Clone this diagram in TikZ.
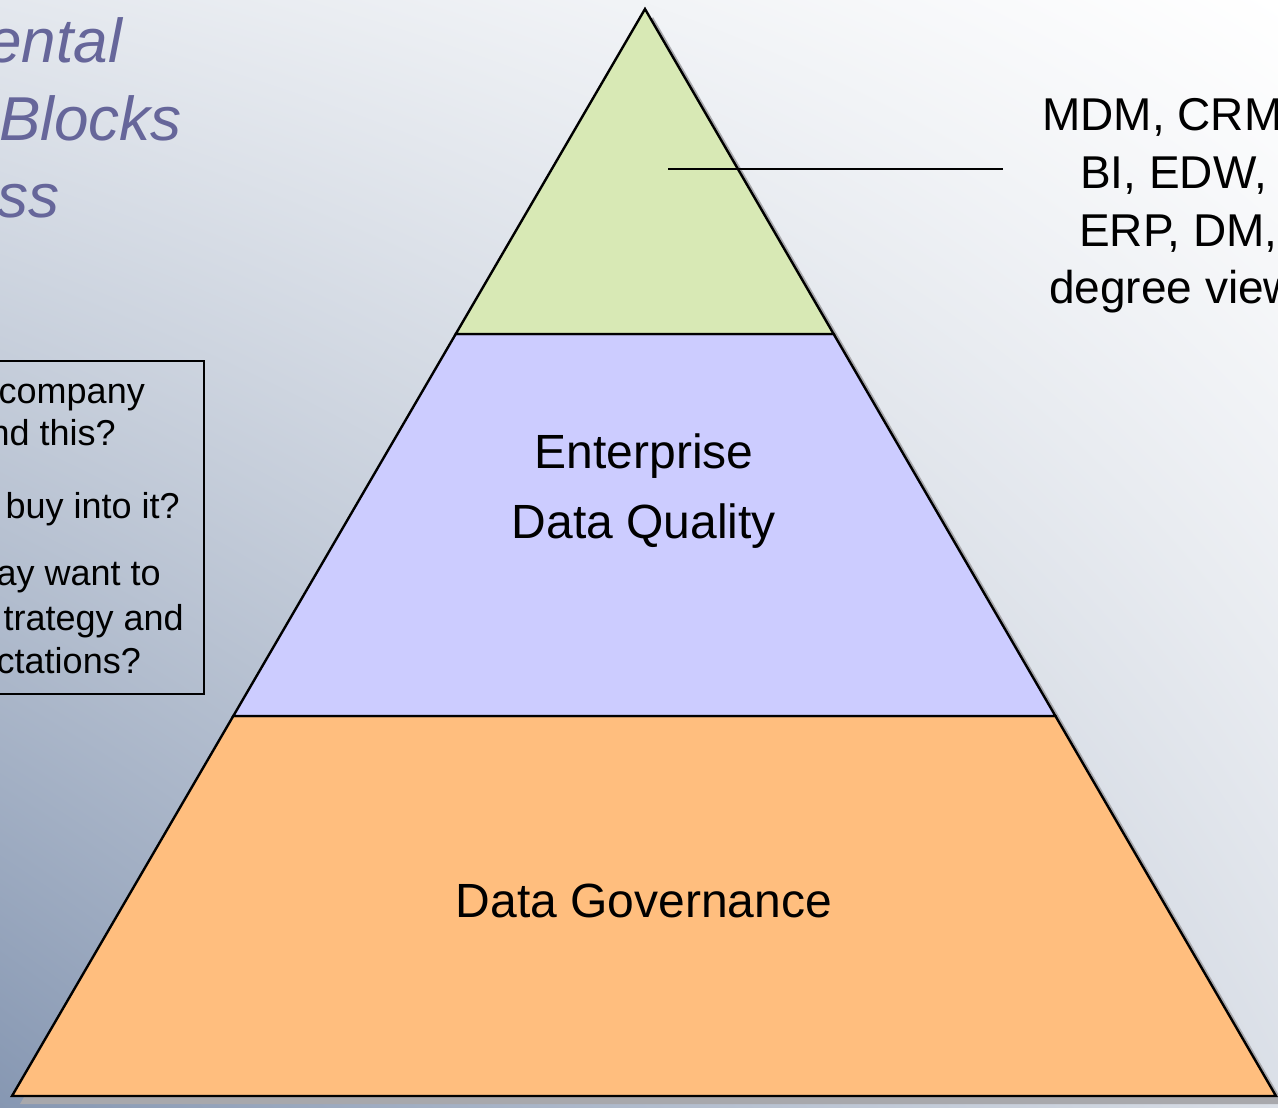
\documentclass[tikz,border=0pt]{standalone}
\usepackage{fontspec}
\setmainfont{Liberation Sans}
\usepackage{xcolor}
\usetikzlibrary{calc,positioning,shadings}

\definecolor{bgtl}{RGB}{228,232,238}
\definecolor{bgtr}{RGB}{255,255,255}
\definecolor{bgbl}{RGB}{134,151,178}
\definecolor{bgbr}{RGB}{218,223,231}
\definecolor{titlecol}{RGB}{102,102,154}
\definecolor{topfill}{RGB}{216,233,181}
\definecolor{midfill}{RGB}{204,204,255}
\definecolor{botfill}{RGB}{255,190,126}
\definecolor{shadowcol}{RGB}{168,168,172}

\begin{document}
\begin{tikzpicture}[x=1pt, y=-1pt,
    layer/.style={draw=black, line width=2.4pt, line join=miter},
    lbl/.style={inner sep=0pt, font=\fontsize{48}{57}\selectfont},
    side/.style={inner sep=0pt, font=\fontsize{46}{55}\selectfont, anchor=base west},
    ask/.style={inner sep=0pt, font=\fontsize{36}{43}\selectfont, anchor=base east},
    head/.style={inner sep=0pt, text=titlecol, font=\fontsize{62}{74}\selectfont\itshape, anchor=base east},
  ]

  \useasboundingbox (0,0) rectangle (1278,1108);

  % Background
  \shade[upper left=bgtl, upper right=bgtr, lower left=bgbl, lower right=bgbr]
    (0,0) rectangle (1278,1108);

  % Title (cut at the left edge)
  \node[head] (t1) at (122,63) {ental};
  \node[head] (t2) at (182,140) {Blocks};
  \node[head] (t3) at (60,217) {ss};

  % Question box
  \draw[line width=1.8pt] (-20,361) rectangle (204,694);
  \node[ask] (q1) at (145,403) {company};
  \node[ask] (q2) at (116,445) {nd this?};
  \node[ask] (q3) at (180,518) {buy into it?};
  \node[ask] (q4) at (161,585) {ay want to};
  \node[ask] (q5) at (184,630) {trategy and};
  \node[ask] (q6) at (141,673) {ctations?};

  % Pyramid corners
  \coordinate (apex) at (645,9);
  \coordinate (bl) at (12,1096);
  \coordinate (br) at (1276,1096);
  \coordinate (l1) at ($(apex)!0.299!(bl)$);
  \coordinate (r1) at ($(apex)!0.299!(br)$);
  \coordinate (l2) at ($(apex)!0.6504!(bl)$);
  \coordinate (r2) at ($(apex)!0.6504!(br)$);

  % Shadow
  \fill[shadowcol] ($(apex)+(8,8)$) -- ($(br)+(8,8)$) -- ($(bl)+(8,8)$) -- cycle;

  % Layers
  \filldraw[layer, fill=botfill] (l2) -- (r2) -- (br) -- (bl) -- cycle;
  \filldraw[layer, fill=midfill] (l1) -- (r1) -- (r2) -- (l2) -- cycle;
  \filldraw[layer, fill=topfill] (apex) -- (r1) -- (l1) -- cycle;

  \node[lbl, anchor=base] (edq1) at (644,468) {Enterprise};
  \node[lbl, anchor=base] (edq2) at (644,538) {Data Quality};
  \node[lbl, anchor=base] (gov) at (644,917) {Data Governance};

  % Callout
  \coordinate (tip) at (668,169);
  \coordinate (tail) at (1003,169);
  \draw[line width=1.6pt] (tip) -- (tail);

  \node[side] (s1) at (1042,130) {MDM, CRM};
  \node[side] (s2) at (1080,188) {BI, EDW,};
  \node[side] (s3) at (1079,246) {ERP, DM,};
  \node[side] (s4) at (1049,303) {degree view};

\end{tikzpicture}
\end{document}
